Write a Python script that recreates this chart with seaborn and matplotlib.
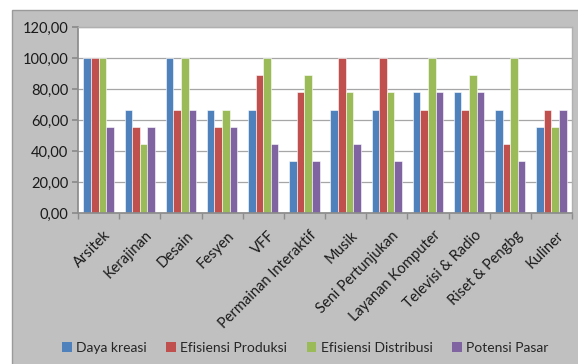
import pandas as pd
import numpy as np
import matplotlib
matplotlib.use('Agg')
import matplotlib.pyplot as plt
import matplotlib.transforms as mtransforms
import seaborn as sns
from matplotlib.patches import Rectangle
from matplotlib.ticker import FuncFormatter

# Data
categories = ['Arsitek', 'Kerajinan', 'Desain', 'Fesyen', 'VFF', 'Permainan Interaktif',
              'Musik', 'Seni Pertunjukan', 'Layanan Komputer', 'Televisi & Radio',
              'Riset & Pengbg', 'Kuliner']
series = ['Daya kreasi', 'Efisiensi Produksi', 'Efisiensi Distribusi', 'Potensi Pasar']
daya_kreasi = [100.00, 66.67, 100.00, 66.67, 66.67, 33.33, 66.67, 66.67, 77.78, 77.78, 66.67, 55.56]
efisiensi_produksi = [100.00, 55.56, 66.67, 55.56, 88.89, 77.78, 100.00, 100.00, 66.67, 66.67, 44.44, 66.67]
efisiensi_distribusi = [100.00, 44.44, 100.00, 66.67, 100.00, 88.89, 77.78, 77.78, 100.00, 88.89, 100.00, 55.56]
potensi_pasar = [55.56, 55.56, 66.67, 55.56, 44.44, 33.33, 44.44, 33.33, 77.78, 77.78, 33.33, 66.67]
colors = ['#4F81BD', '#C0504D', '#9BBB59', '#8064A2']

df = pd.DataFrame({'kategori': categories,
                   series[0]: daya_kreasi,
                   series[1]: efisiensi_produksi,
                   series[2]: efisiensi_distribusi,
                   series[3]: potensi_pasar})
long_df = df.melt(id_vars='kategori', var_name='seri', value_name='nilai')

sns.set_theme(style='white')
plt.rcParams['font.family'] = ['Lato', 'DejaVu Sans']

bg = '#c0c0c0'
fig = plt.figure(figsize=(5.78, 3.64), dpi=100, facecolor='white')
# grey chart area with border (cropped at right and bottom)
fig.patches.append(Rectangle((12 / 578, -0.01), 1.0, (364 - 10) / 364 + 0.01,
                             transform=fig.transFigure, facecolor=bg,
                             edgecolor='#9a9a9a', lw=1.0, zorder=-10))

ax = fig.add_axes([78 / 578, 1 - 213 / 364, (572 - 78) / 578, (213 - 27) / 364])
ax.set_facecolor('white')

sns.barplot(data=long_df, x='kategori', y='nilai', hue='seri', hue_order=series,
            palette=colors, width=0.74, saturation=1, ax=ax, legend=False,
            edgecolor='white', linewidth=0.4)

ax.set_ylim(0, 120)
ax.set_yticks(np.arange(0, 121, 20))
ax.yaxis.set_major_formatter(FuncFormatter(lambda v, p: f'{v:.2f}'.replace('.', ',')))
ax.yaxis.grid(True, color='#a6a6a6', lw=0.9)
ax.set_axisbelow(True)
ax.set_xlim(-0.5, len(categories) - 0.5)
ax.set_xlabel('')
ax.set_ylabel('')

for s in ['top', 'right']:
    ax.spines[s].set_color('#b0b0b0')
    ax.spines[s].set_linewidth(1.0)
ax.spines['left'].set_color('#8c8c8c')
ax.spines['bottom'].set_color('#8c8c8c')

ax.tick_params(axis='y', length=4, color='#8c8c8c', labelsize=10.5, labelcolor='#1a1a1a', pad=3, left=True)
ax.set_xticks(range(len(categories)))
ax.set_xticklabels(categories, rotation=45, ha='right', va='top', rotation_mode='anchor',
                   fontsize=10.5, color='#1a1a1a')
ax.tick_params(axis='x', length=0, pad=6)
# shift rotated labels like Excel does (right and down)
offset = mtransforms.ScaledTranslation(0.05, -0.07, fig.dpi_scale_trans)
for lbl in ax.get_xticklabels():
    lbl.set_transform(lbl.get_transform() + offset)
# tick marks between categories
ax.set_xticks(np.arange(-0.5, len(categories), 1), minor=True)
ax.tick_params(axis='x', which='minor', length=4, color='#8c8c8c', bottom=True)

handles = [Rectangle((0, 0), 1, 1, facecolor=c, edgecolor='none') for c in colors]
fig.legend(handles, series, loc='center', bbox_to_anchor=(0.528, 1 - 348 / 364), ncol=4,
           frameon=False, fontsize=10, handlelength=0.7, handleheight=0.7,
           handletextpad=0.3, columnspacing=1.4)

fig.savefig('out.png', dpi=100, facecolor=fig.get_facecolor())
